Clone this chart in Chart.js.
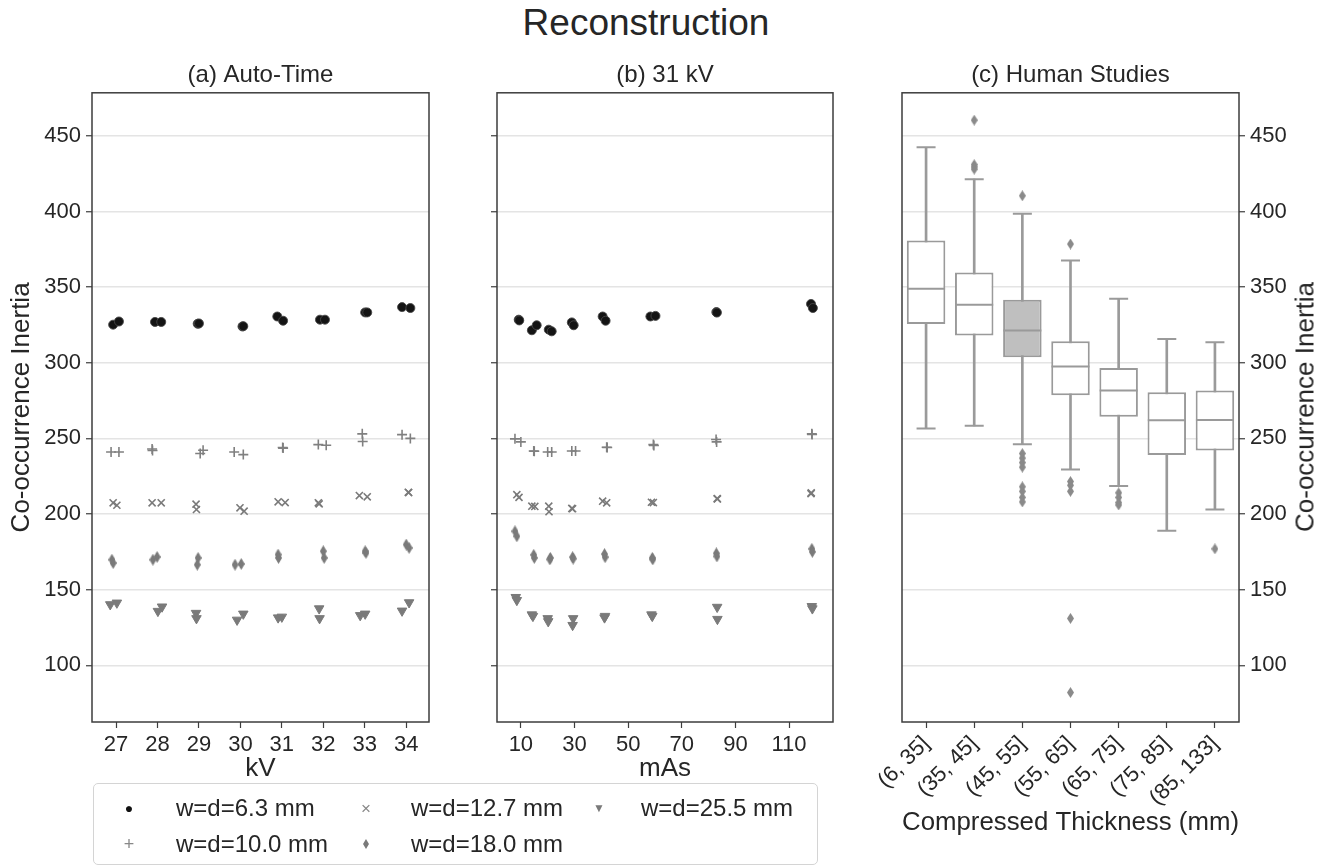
<!DOCTYPE html>
<html>
<head>
<meta charset="utf-8">
<script src="https://cdn.jsdelivr.net/npm/chart.js@4.4.1/dist/chart.umd.min.js"></script>
<style>
  body { margin: 0; background: #fff; font-family: 'Liberation Sans', Arial, sans-serif; color: #262626; }
  #page { position: relative; width: 1335px; height: 867px; overflow: hidden; }
  canvas { position: absolute; }
  #mainTitle { position: absolute; left: 646px; top: 2px; transform: translateX(-50%); font-size: 37px; white-space: nowrap; }
  #rightLabel { position: absolute; left: 1305px; top: 407px; transform: translate(-50%, -50%) rotate(-90deg); font-size: 26px; white-space: nowrap; }
  #legend { position: absolute; left: 93px; top: 783px; width: 723px; height: 80px; border: 1px solid #d4d4d4; border-radius: 5px; }
  #legend .mk { position: absolute; transform: translate(-50%, -50%); line-height: 1; }
  #legend .tx { position: absolute; font-size: 24px; line-height: 28px; white-space: nowrap; }
</style>
</head>
<body>
<div id="page">
  <div id="mainTitle">Reconstruction</div>
  <canvas id="autoTime" width="440" height="727" style="left:0;top:57px"></canvas>
  <canvas id="kv31" width="400" height="727" style="left:440px;top:57px"></canvas>
  <canvas id="human" width="475" height="781" style="left:860px;top:57px"></canvas>
  <div id="rightLabel">Co-occurrence Inertia</div>
  <div id="legend">
    <span class="mk" style="left:35px;top:24px;font-size:14px;color:#111">●</span>
    <span class="tx" style="left:82px;top:10px">w=d=6.3 mm</span>
    <span class="mk" style="left:35px;top:60px;font-size:18px;color:#888">+</span>
    <span class="tx" style="left:82px;top:46px">w=d=10.0 mm</span>
    <span class="mk" style="left:272px;top:24px;font-size:17px;color:#888">×</span>
    <span class="tx" style="left:317px;top:10px">w=d=12.7 mm</span>
    <span class="mk" style="left:272px;top:60px;width:7px;height:7px;background:#7a7a7a;transform:translate(-50%,-50%) scaleX(0.6) rotate(45deg)"></span>
    <span class="tx" style="left:317px;top:46px">w=d=18.0 mm</span>
    <span class="mk" style="left:505px;top:24px;font-size:12px;color:#7a7a7a">▼</span>
    <span class="tx" style="left:547px;top:10px">w=d=25.5 mm</span>
  </div>
</div>
<script>
// shared y axis
const yTicks = [100, 150, 200, 250, 300, 350, 400, 450];
const yMin = 62.5, yMax = 478.5;

// (a) Auto-Time: kV positions (small horizontal jitter as plotted) and inertia
const kvTicks = [27, 28, 29, 30, 31, 32, 33, 34];
const kv_63 = [26.93, 27.07, 27.94, 28.09, 28.97, 29.0, 30.05, 30.07, 30.89, 31.03, 31.92, 32.04, 33.01, 33.06, 33.9, 34.1];
const at_63 = [325.2, 327.3, 327, 327, 325.8, 326, 324, 324.2, 330.6, 327.8, 328.5, 328.5, 333.3, 333.3, 336.8, 336.2];
const kv_100 = [26.88, 27.07, 27.87, 27.88, 29.03, 29.1, 29.85, 30.07, 31.02, 31.03, 31.88, 32.07, 32.94, 32.95, 33.9, 34.1];
const at_100 = [241, 241, 243, 242, 240, 242.2, 241, 239.3, 244, 243.6, 245.9, 245.5, 253, 248, 252.5, 250];
const kv_127 = [26.93, 27.02, 27.87, 28.09, 28.93, 28.94, 29.99, 30.09, 30.91, 31.08, 31.88, 31.9, 32.87, 33.06, 34.05, 34.06];
const at_127 = [207.4, 205.8, 207.4, 207.4, 206.5, 203, 204.1, 201.9, 208.1, 207.6, 207.4, 206.7, 212.2, 211.4, 214.4, 214.2];
const kv_180 = [26.9, 26.93, 27.89, 27.99, 28.98, 28.96, 29.87, 30.02, 30.91, 30.92, 32.0, 32.02, 33.01, 33.03, 34.0, 34.07];
const at_180 = [169.8, 167.6, 169.8, 171.6, 171, 166.5, 166.5, 167, 173.2, 171, 175.4, 171, 175.4, 174.3, 179.8, 177.6];
const kv_255 = [26.86, 27.02, 28.01, 28.11, 28.93, 28.94, 29.92, 30.07, 30.91, 31.0, 31.9, 31.91, 32.89, 33.01, 33.9, 34.07];
const at_255 = [140.2, 141.3, 135.8, 138.7, 134.5, 131, 130, 134, 131.5, 132, 137.5, 131, 133, 134, 136, 141.5];

// (b) 31 kV: mAs positions and inertia
const masTicks = [10, 30, 50, 70, 90, 110];
const mas_63 = [9.2, 9.4, 14.1, 15.9, 20.4, 21.5, 29.0, 29.7, 40.5, 41.6, 58.3, 60.2, 82.9, 83.1, 118.2, 118.9];
const kv31_63 = [328.5, 328, 321.5, 324.8, 321.9, 320.8, 326.7, 324.8, 330.6, 327.8, 330.6, 331, 333.5, 333.2, 338.9, 336.2];
const mas_100 = [7.8, 10.0, 14.8, 15.0, 20.0, 21.5, 29.0, 30.4, 42.0, 42.2, 59.4, 59.6, 82.8, 83.0, 118.5, 118.6];
const kv31_100 = [249.7, 247.7, 241.7, 241.5, 241, 241, 241.7, 241.7, 244.2, 244, 245.9, 245.3, 249.3, 247.7, 253, 252.6];
const mas_127 = [8.5, 9.3, 14.1, 15.2, 20.4, 20.5, 29.0, 29.3, 40.5, 42.0, 58.7, 59.4, 83.2, 83.3, 118.2, 118.3];
const kv31_127 = [212.8, 211, 205.2, 205, 205.2, 201.5, 203.7, 203.5, 208.5, 207.4, 207.8, 207.6, 210.2, 210, 213.5, 214];
const mas_180 = [7.8, 8.5, 14.8, 15.0, 20.8, 21.0, 29.3, 29.5, 41.2, 41.4, 59.0, 59.2, 82.9, 83.1, 118.5, 118.7];
const kv31_180 = [188.6, 185.3, 173, 171, 170, 171, 171.5, 170.5, 173.5, 171.5, 171, 170, 174, 172, 177, 175];
const mas_255 = [8.1, 8.5, 14.1, 14.5, 20.0, 20.2, 29.3, 29.5, 41.2, 41.4, 58.7, 59.0, 83.2, 83.3, 118.5, 118.7];
const kv31_255 = [145, 143, 133.5, 132.5, 131, 129, 126.5, 131, 131.5, 132.5, 133.5, 132.5, 138.5, 130.5, 139, 137.5];

// (c) Human studies: box plot summary per compressed thickness bin
const thicknessBins = ['(6, 35]', '(35, 45]', '(45, 55]', '(55, 65]', '(65, 75]', '(75, 85]', '(85, 133]'];
const whiskerLow = [256.5, 258.3, 246.1, 229.4, 218.6, 189, 203];
const q1 = [325.6, 318.1, 303.6, 278.5, 264.3, 239, 242];
const median = [349, 338.4, 321.3, 297.6, 281.6, 262, 262.2];
const q3 = [380.9, 359.7, 341.7, 314.2, 296.6, 280.5, 281.6];
const whiskerHigh = [442.5, 421.4, 398.5, 367.6, 342.3, 315.8, 313.5];
const outlierBins = ['(35, 45]', '(35, 45]', '(35, 45]', '(35, 45]',
  '(45, 55]', '(45, 55]', '(45, 55]', '(45, 55]', '(45, 55]', '(45, 55]', '(45, 55]', '(45, 55]', '(45, 55]',
  '(55, 65]', '(55, 65]', '(55, 65]', '(55, 65]', '(55, 65]', '(55, 65]',
  '(65, 75]', '(65, 75]', '(65, 75]', '(65, 75]', '(85, 133]'];
const outlierValues = [460.4, 431, 429.5, 428,
  410.4, 240, 237, 234, 231, 218, 215, 211, 208,
  378.5, 221.5, 219, 215, 131, 82,
  214, 211, 207.5, 206, 177];

Chart.defaults.font.family = "'Liberation Sans', Arial, sans-serif";
Chart.defaults.color = '#262626';

const darkLine = '#3d3d3d';
const gridColor = '#e4e4e4';
const tickFont = {size: 22};

//thin diamond marker like matplotlib 'd'
function thinDiamond(w, h, color) {
    const c = document.createElement('canvas');
    c.width = w; c.height = h;
    const g = c.getContext('2d');
    g.fillStyle = color;
    g.beginPath();
    g.moveTo(w / 2, 0); g.lineTo(w, h / 2); g.lineTo(w / 2, h); g.lineTo(0, h / 2);
    g.closePath(); g.fill();
    return c;
}

const framePlugin = {
    id: 'frame',
    afterDatasetsDraw(chart) {
        const {ctx, chartArea: a} = chart;
        ctx.save();
        ctx.strokeStyle = darkLine;
        ctx.lineWidth = 1.5;
        ctx.strokeRect(a.left, a.top, a.right - a.left, a.bottom - a.top);
        ctx.restore();
    }
};

function pts(xs, ys) {
    return xs.map((x, i) => ({x: x, y: ys[i]}));
}

function seriesDatasets(groups) {
    const diamond = thinDiamond(7, 12, '#7a7a7a');
    return [
        {label: 'w=d=6.3 mm', data: pts(groups[0][0], groups[0][1]), pointStyle: 'circle', pointRadius: 4.5,
         backgroundColor: '#141414', borderColor: 'rgba(70,70,70,0.9)', borderWidth: 1},
        {label: 'w=d=10.0 mm', data: pts(groups[1][0], groups[1][1]), pointStyle: 'cross', pointRadius: 5,
         backgroundColor: '#808080', borderColor: '#808080', borderWidth: 1.6},
        {label: 'w=d=12.7 mm', data: pts(groups[2][0], groups[2][1]), pointStyle: 'crossRot', pointRadius: 5,
         backgroundColor: '#7a7a7a', borderColor: '#7a7a7a', borderWidth: 1.6},
        {label: 'w=d=18.0 mm', data: pts(groups[3][0], groups[3][1]), pointStyle: diamond, pointRadius: 6},
        {label: 'w=d=25.5 mm', data: pts(groups[4][0], groups[4][1]), pointStyle: 'triangle', rotation: 180, pointRadius: 5.5,
         backgroundColor: '#7a7a7a', borderColor: '#7a7a7a', borderWidth: 1}
    ];
}

function yAxis(width, showLabels, position) {
    return {
        position: position,
        min: yMin, max: yMax,
        afterBuildTicks: (scale) => { scale.ticks = yTicks.map(v => ({value: v})); },
        afterFit: (scale) => { scale.width = width; },
        ticks: {display: showLabels, font: tickFont, padding: 5, color: '#262626'},
        grid: {color: gridColor, lineWidth: 1.5, tickColor: darkLine, tickLength: 6, tickWidth: 1.2},
        border: {display: false}
    };
}

function scatterPanel(id, title, groups, xMin, xMax, xTicks, xTitle, yWidth, showYLabels, padRight) {
    const yScale = yAxis(yWidth, showYLabels, 'left');
    if (showYLabels) {
        yScale.title = {display: true, text: 'Co-occurrence Inertia', font: {size: 26}, padding: {top: 6, bottom: 0}};
    }
    new Chart(document.getElementById(id), {
        type: 'scatter',
        data: {datasets: seriesDatasets(groups)},
        options: {
            responsive: false,
            animation: false,
            events: [],
            layout: {padding: {left: 0, right: padRight, top: 0, bottom: 0}},
            plugins: {
                legend: {display: false},
                tooltip: {enabled: false},
                title: {display: true, text: title, fullSize: false, font: {size: 24, weight: 'normal'},
                        color: '#262626', padding: {top: 4, bottom: 3}}
            },
            scales: {
                x: {
                    type: 'linear', min: xMin, max: xMax,
                    afterBuildTicks: (scale) => { scale.ticks = xTicks.map(v => ({value: v})); },
                    afterFit: (scale) => { scale.height = 62; },
                    ticks: {font: tickFont, padding: 4, maxRotation: 0, color: '#262626'},
                    grid: {drawOnChartArea: false, tickColor: darkLine, tickLength: 6, tickWidth: 1.2},
                    border: {display: false},
                    title: {display: true, text: xTitle, font: {size: 26}, padding: {top: 0, bottom: 0}}
                },
                y: yScale
            }
        },
        plugins: [framePlugin]
    });
}

scatterPanel('autoTime', '(a) Auto-Time',
    [[kv_63, at_63], [kv_100, at_100], [kv_127, at_127], [kv_180, at_180], [kv_255, at_255]],
    26.42, 34.55, kvTicks, 'kV', 92, true, 11);

scatterPanel('kv31', '(b) 31 kV',
    [[mas_63, kv31_63], [mas_100, kv31_100], [mas_127, kv31_127], [mas_180, kv31_180], [mas_255, kv31_255]],
    1.1, 126.4, masTicks, 'mAs', 57, false, 6);

//box plot for human studies
const boxLine = '#9a9a9a';
const boxFill = thicknessBins.map((b, i) => i === 2 ? '#bfbfbf' : '#ffffff');
const outlierMarker = thinDiamond(7, 11, '#8a8a8a');

new Chart(document.getElementById('human'), {
    type: 'bar',
    data: {
        labels: thicknessBins,
        datasets: [
            {type: 'bar', data: thicknessBins.map((b, i) => [whiskerLow[i], whiskerHigh[i]]),
             backgroundColor: boxLine, barThickness: 2, grouped: false, order: 3},
            {type: 'bar', data: thicknessBins.map((b, i) => [q1[i], q3[i]]),
             backgroundColor: boxFill, borderColor: boxLine, borderWidth: 2, borderSkipped: false,
             barPercentage: 0.8, categoryPercentage: 1, grouped: false, order: 2},
            {type: 'line', data: median, showLine: false, pointStyle: 'line', pointRadius: 19,
             borderColor: boxLine, pointBorderWidth: 2, order: 1},
            {type: 'line', data: whiskerLow, showLine: false, pointStyle: 'line', pointRadius: 9.5,
             borderColor: boxLine, pointBorderWidth: 2, order: 1},
            {type: 'line', data: whiskerHigh, showLine: false, pointStyle: 'line', pointRadius: 9.5,
             borderColor: boxLine, pointBorderWidth: 2, order: 1},
            {type: 'line', data: outlierBins.map((b, i) => ({x: b, y: outlierValues[i]})), showLine: false,
             pointStyle: outlierMarker, pointRadius: 6, order: 0}
        ]
    },
    options: {
        responsive: false,
        animation: false,
        events: [],
        layout: {padding: {left: 42, right: 0, top: 0, bottom: 0}},
        plugins: {
            legend: {display: false},
            tooltip: {enabled: false},
            title: {display: true, text: '(c) Human Studies', fullSize: false, font: {size: 24, weight: 'normal'},
                    color: '#262626', padding: {top: 4, bottom: 3}}
        },
        scales: {
            x: {
                type: 'category',
                afterFit: (scale) => { scale.height = 116; },
                ticks: {font: tickFont, padding: 3, minRotation: 45, maxRotation: 45, autoSkip: false, color: '#262626'},
                grid: {drawOnChartArea: false, offset: false, tickColor: darkLine, tickLength: 6, tickWidth: 1.2},
                border: {display: false},
                title: {display: true, text: 'Compressed Thickness (mm)', font: {size: 26}, padding: {top: 0, bottom: 0}}
            },
            y: yAxis(96, true, 'right')
        }
    },
    plugins: [framePlugin]
});
</script>
</body>
</html>
